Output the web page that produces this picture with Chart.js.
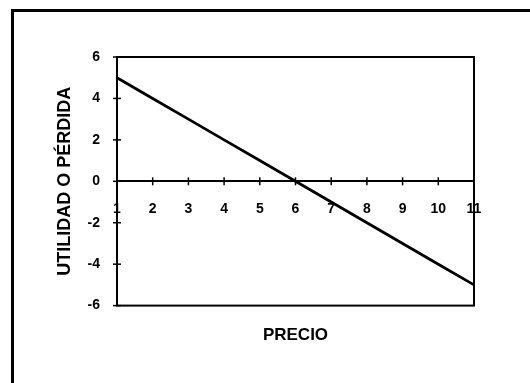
<!DOCTYPE html>
<html>
<head>
<meta charset="utf-8">
<script src="https://cdn.jsdelivr.net/npm/chart.js@4.4.1/dist/chart.umd.min.js"></script>
<style>
  html,body{margin:0;padding:0;background:#fff;}
  #wrap{position:relative;width:530px;height:383px;overflow:hidden;}
  #frame{position:absolute;left:11px;top:9px;width:600px;height:500px;border-left:3px solid #000;border-top:3px solid #000;}
  canvas{position:absolute;left:0;top:0;}
</style>
</head>
<body>
<div id="wrap">
  <div id="frame"></div>
  <canvas id="chart" width="530" height="383"></canvas>
</div>
<script>
// precio vs utilidad o pérdida
const precios = ["1","2","3","4","5","6","7","8","9","10","11"];
const utilidad = [5,4,3,2,1,0,-1,-2,-3,-4,-5];
const yMin = -6, yMax = 6, yStep = 2;

const FONT = "'Liberation Sans', Arial, sans-serif";

// box round the plot + ticks that cross the axes
const plotFrame = {
  id:"plotFrame",
  afterDraw(chart){
    const {ctx, chartArea:a, scales} = chart;
    ctx.save();
    ctx.strokeStyle = "#000";
    ctx.lineWidth = 2;
    ctx.strokeRect(a.left, a.top, a.right - a.left, a.bottom - a.top);
    ctx.lineWidth = 1.5;
    const y0 = scales.y.getPixelForValue(0);
    scales.x.ticks.forEach((t,i)=>{
      const px = scales.x.getPixelForTick(i);
      ctx.beginPath(); ctx.moveTo(px, y0-4); ctx.lineTo(px, y0+4); ctx.stroke();
    });
    scales.y.ticks.forEach((t,i)=>{
      const py = scales.y.getPixelForTick(i);
      ctx.beginPath(); ctx.moveTo(a.left-4, py); ctx.lineTo(a.left+4, py); ctx.stroke();
    });
    ctx.restore();
  }
};

new Chart(document.getElementById("chart").getContext("2d"),{
  type:"line",
  data:{labels:precios,
    datasets:[{data:utilidad,borderColor:"#000",borderWidth:2.8,pointRadius:0,tension:0,fill:false}]},
  plugins:[plotFrame],
  options:{
    responsive:false,animation:false,
    layout:{padding:{left:54,top:57,right:56,bottom:2}},
    plugins:{
      legend:{display:false},tooltip:{enabled:false},
      title:{display:true,position:"bottom",fullSize:false,text:"PRECIO",color:"#000",
        font:{family:FONT,size:17,weight:"bold"},padding:{top:20,bottom:35}}
    },
    scales:{
      x:{type:"category",offset:false,position:{y:0},
        grid:{display:false,drawOnChartArea:false,drawTicks:false},
        border:{display:true,color:"#000",width:2},
        ticks:{color:"#000",font:{family:FONT,size:14,weight:"bold"},padding:19,maxRotation:0,autoSkip:false}},
      y:{min:yMin,max:yMax,position:"left",
        afterFit(s){s.width = 63;},
        grid:{display:false,drawOnChartArea:false,drawTicks:false},
        border:{display:true,color:"#000",width:2},
        ticks:{stepSize:yStep,color:"#000",font:{family:FONT,size:14,weight:"bold"},padding:17},
        title:{display:true,text:"UTILIDAD O PÉRDIDA",color:"#000",
          font:{family:FONT,size:18,weight:"bold"},padding:0}}
    }
  }
});
</script>
</body>
</html>
